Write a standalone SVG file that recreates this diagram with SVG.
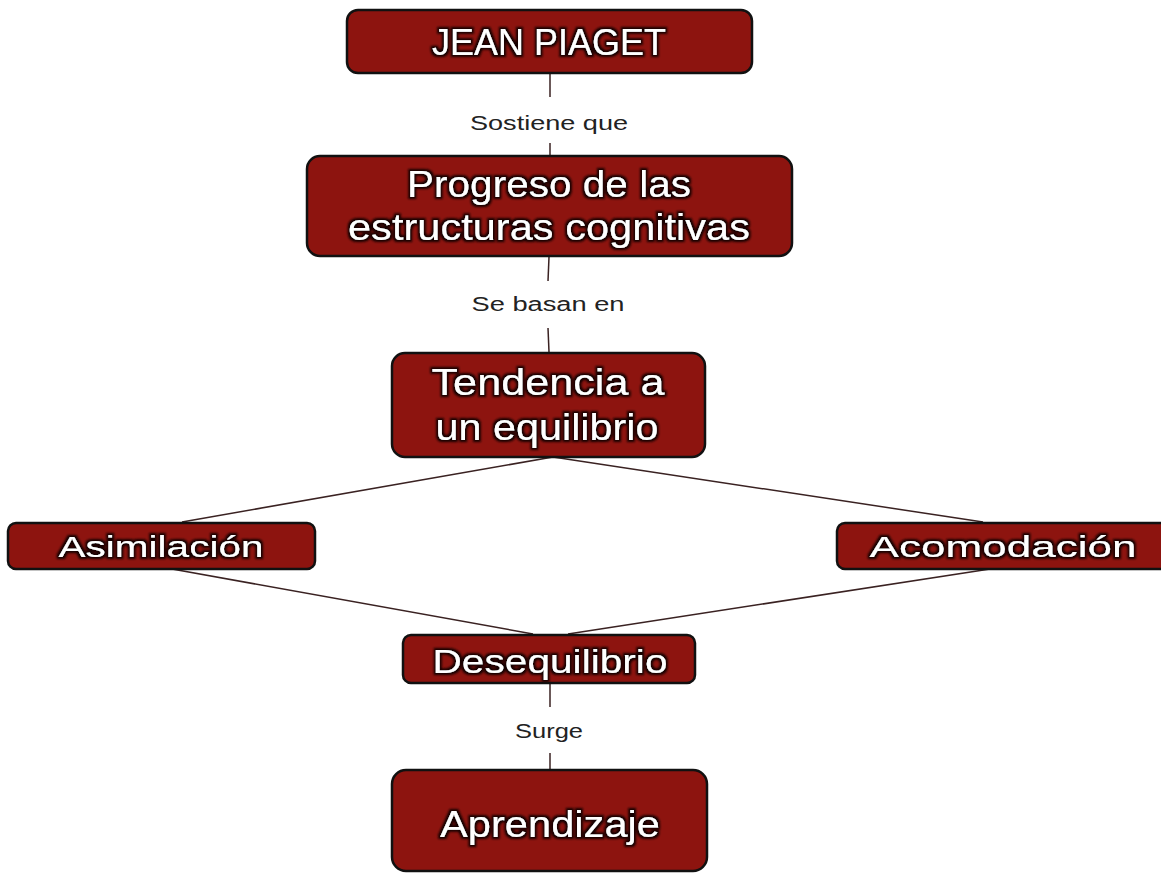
<svg xmlns="http://www.w3.org/2000/svg" width="1161" height="874" viewBox="0 0 1161 874">
<defs>
<filter id="glow" x="-10%" y="-30%" width="120%" height="160%">
<feMorphology in="SourceAlpha" operator="dilate" radius="1.6" result="d"/>
<feGaussianBlur in="d" stdDeviation="1.3" result="b"/>
<feFlood flood-color="#150000"/>
<feComposite in2="b" operator="in" result="s"/>
<feMerge><feMergeNode in="s"/><feMergeNode in="SourceGraphic"/></feMerge>
</filter>
</defs>
<style>
.box{fill:#8d140f;stroke:#111;stroke-width:2.5}
.t{fill:#fff;font-family:"Liberation Sans",Arial,sans-serif;text-anchor:middle;filter:url(#glow)}
.lbl{fill:#222;font-family:"Liberation Sans",Arial,sans-serif;font-size:20px;text-anchor:middle}
.c{stroke:#3a2222;stroke-width:1.5;fill:none}
</style>
<rect width="1161" height="874" fill="#fff"/>
<g id="connectors">
<line class="c" x1="550" y1="73" x2="550" y2="97"/>
<line class="c" x1="550" y1="143" x2="550" y2="157"/>
<line class="c" x1="549" y1="257" x2="548" y2="281"/>
<line class="c" x1="548" y1="328" x2="549" y2="352"/>
<line class="c" x1="553" y1="457" x2="182" y2="522"/>
<line class="c" x1="553" y1="457" x2="983" y2="522"/>
<line class="c" x1="172" y1="569" x2="533" y2="634"/>
<line class="c" x1="990" y1="569" x2="568" y2="634"/>
<line class="c" x1="550" y1="683" x2="550" y2="707"/>
<line class="c" x1="550" y1="753" x2="550" y2="770"/>
</g>
<g id="lbl-sostiene"><text class="lbl" x="549" y="130" textLength="158" lengthAdjust="spacingAndGlyphs">Sostiene que</text></g>
<g id="lbl-basan"><text class="lbl" x="548" y="311" textLength="153" lengthAdjust="spacingAndGlyphs">Se basan en</text></g>
<g id="lbl-surge"><text class="lbl" x="549" y="738" textLength="68" lengthAdjust="spacingAndGlyphs">Surge</text></g>
<g id="n-piaget">
<rect class="box" x="347" y="10" width="405" height="63" rx="11"/>
<text class="t" x="549" y="55" font-size="37" textLength="234" lengthAdjust="spacingAndGlyphs">JEAN PIAGET</text>
</g>
<g id="n-progreso">
<rect class="box" x="307" y="156" width="485" height="100" rx="13"/>
<text class="t" x="549" y="197" font-size="36" textLength="284" lengthAdjust="spacingAndGlyphs">Progreso de las</text>
<text class="t" x="549" y="240" font-size="36" textLength="402" lengthAdjust="spacingAndGlyphs">estructuras cognitivas</text>
</g>
<g id="n-tendencia">
<rect class="box" x="392" y="353" width="313" height="104" rx="13"/>
<text class="t" x="548" y="395" font-size="37" textLength="233" lengthAdjust="spacingAndGlyphs">Tendencia a</text>
<text class="t" x="547" y="440" font-size="37" textLength="223" lengthAdjust="spacingAndGlyphs">un equilibrio</text>
</g>
<g id="n-asimilacion">
<rect class="box" x="8" y="523" width="307" height="46" rx="8"/>
<text class="t" x="161" y="557" font-size="30" textLength="205" lengthAdjust="spacingAndGlyphs">Asimilación</text>
</g>
<g id="n-acomodacion">
<rect class="box" x="837" y="523" width="335" height="46" rx="8"/>
<text class="t" x="1003" y="557" font-size="30" textLength="267" lengthAdjust="spacingAndGlyphs">Acomodación</text>
</g>
<g id="n-desequilibrio">
<rect class="box" x="403" y="635" width="292" height="48" rx="8"/>
<text class="t" x="550" y="673" font-size="34" textLength="235" lengthAdjust="spacingAndGlyphs">Desequilibrio</text>
</g>
<g id="n-aprendizaje">
<rect class="box" x="392" y="770" width="315" height="101" rx="14"/>
<text class="t" x="550" y="837" font-size="36" textLength="220" lengthAdjust="spacingAndGlyphs">Aprendizaje</text>
</g>
</svg>
